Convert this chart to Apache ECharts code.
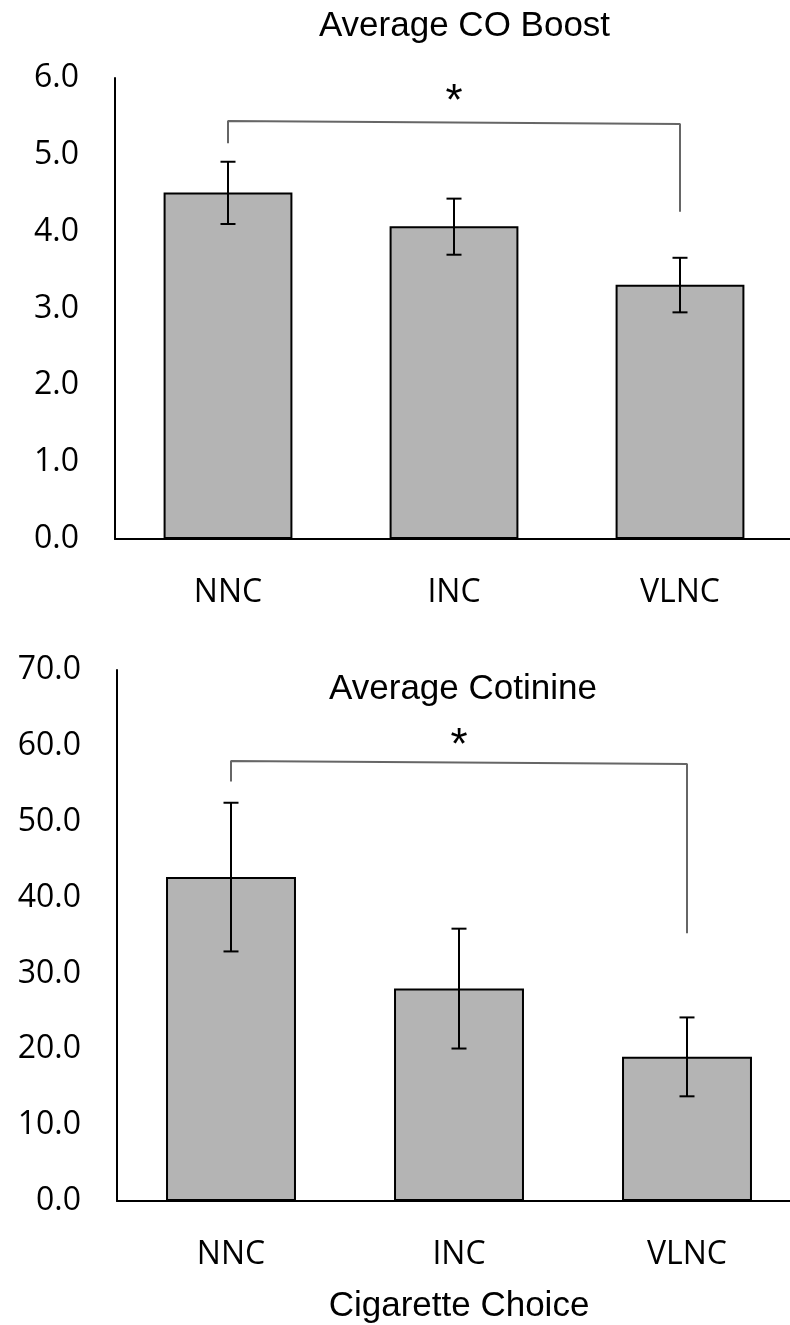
<!DOCTYPE html>
<html><head><meta charset="utf-8">
<script src="https://cdn.jsdelivr.net/npm/echarts@6/dist/echarts.min.js"></script>
<style>html,body{margin:0;padding:0;background:#fff}#c{width:790px;height:1325px}</style>
</head><body><div id="c"></div>
<script>
// ---- data ----
const categories = ['NNC', 'INC', 'VLNC'];
const coMean = [4.51, 4.07, 3.31];
const coLow  = [4.10, 3.70, 2.95];
const coHigh = [4.91, 4.43, 3.66];
const cotMean = [42.7, 28.0, 19.0];
const cotLow  = [32.9, 20.1, 13.8];
const cotHigh = [52.5, 35.9, 24.2];
const coTicks = { min: 0, max: 6, interval: 1 };
const cotTicks = { min: 0, max: 70, interval: 10 };
const coBracket = [[0, 5.15], [0, 5.44], [2, 5.40], [2, 4.26]];
const cotBracket = [[0, 55.3], [0, 58.0], [2, 57.6], [2, 35.3]];
const coStar = [[1, 5.67]];
const cotStar = [[1, 59.85]];
const titleCO = 'Average CO Boost';
const titleCot = 'Average Cotinine';
const xName = 'Cigarette Choice';

// ---- chart ----
const chart = echarts.init(document.getElementById('c'), null, { renderer: 'canvas' });
const tickFont = { fontFamily: 'Open Sans', fontSize: 32, color: '#000' };
const titleFont = 'Liberation Sans';

function errRender(params, api) {
  const x = api.value(0), lo = api.value(1), hi = api.value(2);
  const p1 = api.coord([x, hi]), p2 = api.coord([x, lo]);
  const hw = 7.5;
  const style = { stroke: '#000', lineWidth: 2 };
  return { type: 'group', children: [
    { type: 'line', shape: { x1: p1[0], y1: p1[1], x2: p2[0], y2: p2[1] }, style },
    { type: 'line', shape: { x1: p1[0] - hw, y1: p1[1], x2: p1[0] + hw, y2: p1[1] }, style },
    { type: 'line', shape: { x1: p2[0] - hw, y1: p2[1], x2: p2[0] + hw, y2: p2[1] }, style }
  ]};
}
function starRender(params, api) {
  const p = api.coord([api.value(0), api.value(1)]);
  return { type: 'text', x: p[0], y: p[1], style: { text: '*', fontFamily: 'Liberation Sans', fontSize: 44, fill: '#000', align: 'center', verticalAlign: 'middle' } };
}

function xAxisDef(gi, extra) {
  return Object.assign({
    type: 'category', gridIndex: gi, data: categories,
    axisLine: { lineStyle: { color: '#000', width: 2 } },
    axisTick: { show: false },
    axisLabel: Object.assign({ margin: 38, lineHeight: 32 }, tickFont),
    boundaryGap: true
  }, extra || {});
}
function yAxisDef(gi, t) {
  return {
    type: 'value', gridIndex: gi, min: t.min, max: t.max, interval: t.interval,
    axisLine: { show: true, lineStyle: { color: '#000', width: 2 } },
    axisTick: { show: false },
    splitLine: { show: false },
    axisLabel: Object.assign({ margin: 36, formatter: v => v.toFixed(1) }, tickFont)
  };
}
function barSeries(ai, vals) {
  return {
    type: 'bar', xAxisIndex: ai, yAxisIndex: ai, data: vals, barWidth: '57%',
    itemStyle: { color: '#b4b4b4', borderColor: '#000', borderWidth: 2 }, z: 2
  };
}
function errSeries(ai, lo, hi) {
  return {
    type: 'custom', xAxisIndex: ai, yAxisIndex: ai, renderItem: errRender,
    encode: { x: 0, y: [1, 2] }, data: lo.map((l, i) => [i, l, hi[i]]), z: 5
  };
}
function bracketSeries(ai, pts) {
  return {
    type: 'line', xAxisIndex: ai, yAxisIndex: ai, data: pts, symbol: 'none',
    lineStyle: { color: '#666', width: 2 }, z: 4
  };
}
function starSeries(ai, pts) {
  return { type: 'custom', xAxisIndex: ai, yAxisIndex: ai, renderItem: starRender, encode: { x: 0, y: 1 }, data: pts, z: 6 };
}

chart.setOption({
  animation: false,
  backgroundColor: '#fff',
  grid: [
    { left: 115, top: 78, width: 678, height: 461, containLabel: false, outerBoundsMode: 'none' },
    { left: 117, top: 670, width: 684, height: 531, containLabel: false, outerBoundsMode: 'none' }
  ],
  xAxis: [
    xAxisDef(0),
    xAxisDef(1, { name: xName, nameLocation: 'middle', nameGap: 88,
      nameTextStyle: { fontFamily: titleFont, fontSize: 35, color: '#000', lineHeight: 35 } })
  ],
  yAxis: [ yAxisDef(0, coTicks), yAxisDef(1, cotTicks) ],
  graphic: [
    { type: 'text', x: 464.5, y: 26, style: { text: titleCO, fontFamily: titleFont, fontSize: 35, fill: '#000', align: 'center', verticalAlign: 'middle' } },
    { type: 'text', x: 463, y: 689, style: { text: titleCot, fontFamily: titleFont, fontSize: 35, fill: '#000', align: 'center', verticalAlign: 'middle' } }
  ],
  series: [
    barSeries(0, coMean), errSeries(0, coLow, coHigh), bracketSeries(0, coBracket), starSeries(0, coStar),
    barSeries(1, cotMean), errSeries(1, cotLow, cotHigh), bracketSeries(1, cotBracket), starSeries(1, cotStar)
  ]
});
</script></body></html>
